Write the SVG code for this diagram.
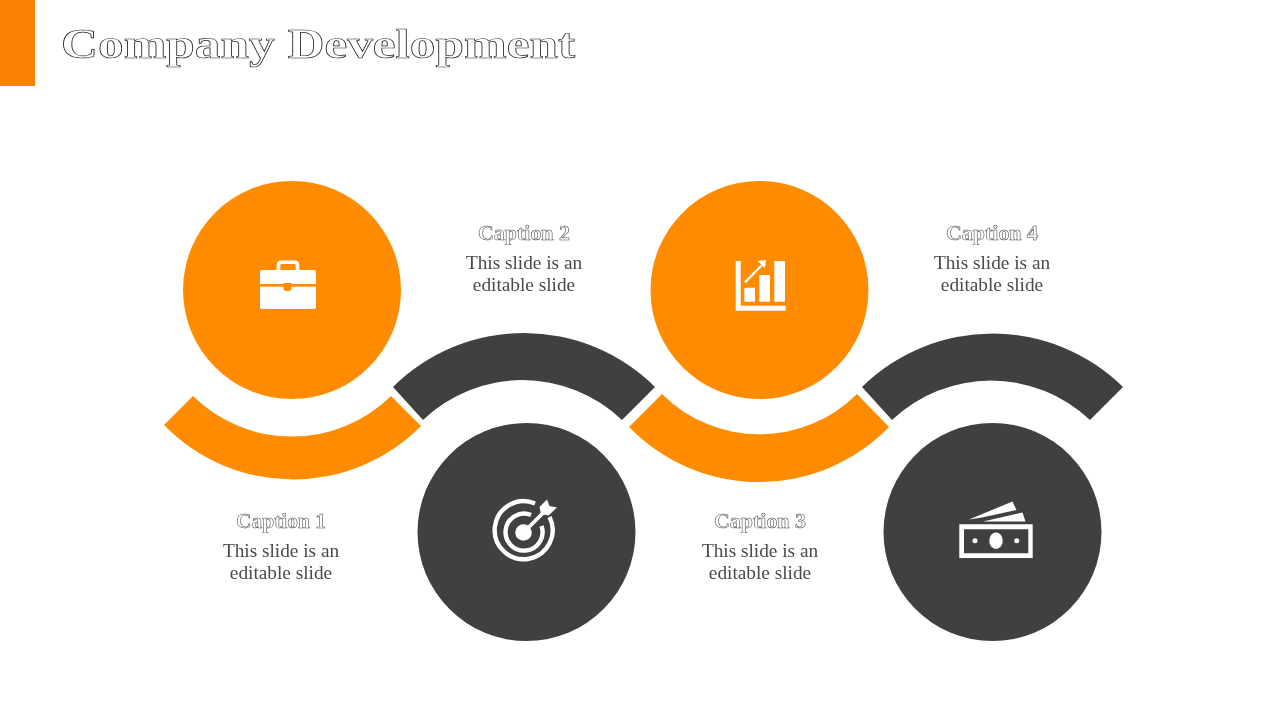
<svg xmlns="http://www.w3.org/2000/svg" width="1280" height="720" viewBox="0 0 1280 720">
<defs><filter id="gray" x="-5%" y="-20%" width="110%" height="140%" color-interpolation-filters="sRGB"><feOffset dx="0" dy="0"/></filter></defs>
<style>
.o{fill:#ff8c00}.d{fill:#404040}.w{fill:#fff}
.ws{fill:none;stroke:#fff}
.t{font-family:"Liberation Serif","DejaVu Serif",serif;text-anchor:middle;filter:url(#gray)}
.cap{font-size:20px;font-weight:700;fill:#fff;stroke:#444;stroke-width:.5px}
.body{font-size:19.300px;fill:#4a4a4a}
.title{font-size:42px;font-weight:700;fill:#fff;stroke:#222;stroke-width:.7px}
</style>
<rect width="1280" height="720" fill="#fff"/>
<rect id="accent" width="35" height="86" fill="#fb8004"/>
<text id="title" class="t title" x="318" y="58" textLength="514" lengthAdjust="spacingAndGlyphs">Company Development</text>
<g id="connectors">
<path class="o" d="M164 425L193 396A141 141 0 0 0 391 396L421 426A180 180 0 0 1 164 425Z"/>
<path class="d" d="M393 387A186 186 0 0 1 655 387L622 420A144 144 0 0 0 423 420Z"/>
<path class="o" d="M629 427L662 394A138 138 0 0 0 857 394L889 427A181 181 0 0 1 629 427Z"/>
<path class="d" d="M862 387A186 186 0 0 1 1123 387L1090 420A144 144 0 0 0 892 420Z"/>
</g>
<g id="node1">
<circle class="o" cx="292" cy="290" r="109"/>
<path class="ws" stroke-width="3.600" d="M278.500 270V265Q278.500 262.300 281.500 262.300H294.500Q297.500 262.300 297.500 265V270"/>
<rect class="w" x="260" y="270" width="56" height="39" rx="2"/>
<rect class="o" x="260" y="284" width="56" height="2.700"/>
<path class="o" d="M283.500 283H291.500V288Q291.500 291 288.500 291H286.500Q283.500 291 283.500 288Z"/>
</g>
<g id="node2">
<circle class="d" cx="526.500" cy="532" r="109"/>
<path class="ws" stroke-width="4.400" d="M535 503.500A29 29 0 1 0 549.500 517"/>
<path class="ws" stroke-width="4.400" d="M531 515A18.500 18.500 0 1 0 541.500 526"/>
<circle class="w" cx="523.500" cy="532.500" r="8.300"/>
<path class="ws" stroke-width="3.800" d="M523.500 532.500L545 511"/>
<path class="w" d="M539.500 507L547 499.500L549.500 506L557 507.500L548.500 515.500L541 514Z"/>
</g>
<g id="node3">
<circle class="o" cx="759.500" cy="290" r="109"/>
<path class="w" d="M735.700 261H740.700V305.700H785.700V310.700H735.700Z"/>
<rect class="w" x="744.300" y="287.700" width="10.700" height="14"/>
<rect class="w" x="759.300" y="275" width="10.700" height="26.700"/>
<rect class="w" x="774.300" y="261" width="10.700" height="40.700"/>
<path class="ws" stroke-width="2.400" d="M745 282.300L762 265"/>
<path class="w" d="M766 260L765 268.300L757.700 261Z"/>
</g>
<g id="node4">
<circle class="d" cx="992.500" cy="532" r="109"/>
<path class="w" fill-rule="evenodd" d="M959.300 524.300H1032.700V558H959.300ZM964 529.300V553.300H1028.300V529.300Z"/>
<ellipse class="w" cx="996" cy="540.700" rx="6.700" ry="8.300"/>
<circle class="w" cx="975" cy="540.700" r="2.500"/>
<circle class="w" cx="1016.700" cy="540.700" r="2.500"/>
<path class="w" d="M969 519.500L1012.500 501.500L1016.500 510L982 517.500Z"/>
<path class="w" d="M983 521.500L1022.500 512.500L1025.500 521.500Z"/>
</g>
<g id="caption1">
<text class="t cap" x="281" y="527.500" textLength="90" lengthAdjust="spacingAndGlyphs">Caption 1</text>
<text class="t body" x="281" y="556.500">This slide is an</text>
<text class="t body" x="281" y="578.500">editable slide</text>
</g>
<g id="caption2">
<text class="t cap" x="524" y="239.500" textLength="92" lengthAdjust="spacingAndGlyphs">Caption 2</text>
<text class="t body" x="524" y="268.500">This slide is an</text>
<text class="t body" x="524" y="290.500">editable slide</text>
</g>
<g id="caption3">
<text class="t cap" x="760" y="527.500" textLength="92" lengthAdjust="spacingAndGlyphs">Caption 3</text>
<text class="t body" x="760" y="556.500">This slide is an</text>
<text class="t body" x="760" y="578.500">editable slide</text>
</g>
<g id="caption4">
<text class="t cap" x="992" y="239.500" textLength="92" lengthAdjust="spacingAndGlyphs">Caption 4</text>
<text class="t body" x="992" y="268.500">This slide is an</text>
<text class="t body" x="992" y="290.500">editable slide</text>
</g>
</svg>
